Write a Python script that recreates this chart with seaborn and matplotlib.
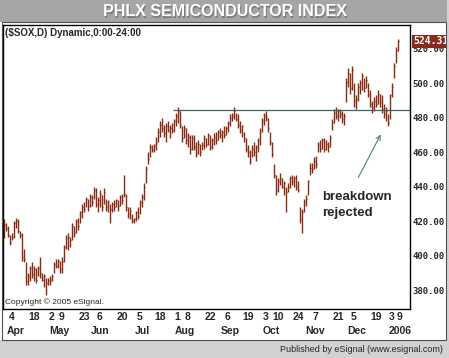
import pandas as pd
import numpy as np
import seaborn as sns
import matplotlib
matplotlib.use("Agg")
import matplotlib.pyplot as plt
from matplotlib.patches import Rectangle

# daily bars of $SOX (29 Mar 2005 - 6 Jan 2006)
highs = [421, 419, 417, 412, 413, 420, 422, 421, 414, 413,
         404, 396, 390, 394, 396, 394, 393, 394, 399, 390,
         389, 387, 387, 388, 389, 396, 398, 398, 397, 399,
         406, 412, 413, 411, 419, 417, 421, 422, 426, 430,
         431, 434, 433, 436, 435, 440, 439, 434, 438, 435,
         439, 433, 432, 430, 431, 432, 433, 432, 435, 436,
         447, 436, 428, 428, 424, 422, 426, 428, 432, 436,
         442, 452, 460, 465, 464, 465, 469, 474, 478, 480,
         476, 477, 478, 476, 477, 479, 483, 486, 484, 475,
         476, 474, 471, 470, 470, 470, 466, 467, 465, 466,
         470, 468, 471, 470, 468, 471, 472, 473, 474, 473,
         475, 475, 478, 482, 483, 486, 483, 482, 478, 476,
         472, 468, 464, 461, 464, 466, 464, 468, 474, 480,
         483, 484, 480, 472, 466, 453, 447, 445, 448, 445,
         443, 440, 442, 446, 447, 446, 447, 443, 428, 427,
         433, 435, 444, 454, 454, 457, 458, 466, 467, 468,
         468, 467, 466, 470, 479, 485, 486, 485, 485, 484,
         483, 503, 509, 506, 510, 500, 493, 500, 502, 506,
         503, 504, 500, 496, 490, 492, 493, 496, 494, 493,
         488, 486, 482, 494, 500, 512, 521, 526]
lows = [410, 414, 411, 406, 409, 410, 416, 413, 410, 397,
        396, 383, 383, 385, 387, 385, 384, 388, 387, 385,
        382, 377, 383, 383, 385, 390, 393, 393, 390, 390,
        396, 404, 403, 405, 409, 411, 413, 415, 419, 422,
        425, 428, 426, 428, 429, 433, 428, 425, 428, 426,
        430, 426, 425, 419, 425, 426, 428, 426, 429, 430,
        434, 426, 422, 421, 419, 419, 420, 421, 424, 428,
        432, 442, 453, 457, 460, 460, 461, 466, 469, 472,
        469, 466, 472, 468, 471, 472, 475, 477, 474, 466,
        468, 465, 463, 459, 461, 461, 457, 459, 458, 461,
        462, 463, 464, 461, 462, 464, 465, 467, 468, 466,
        468, 470, 472, 475, 478, 479, 478, 474, 471, 469,
        466, 460, 457, 453, 457, 458, 455, 460, 464, 472,
        476, 478, 472, 464, 457, 445, 435, 437, 441, 439,
        435, 425, 437, 439, 441, 440, 438, 437, 419, 413,
        425, 429, 435, 447, 448, 450, 451, 460, 460, 462,
        460, 461, 460, 463, 473, 477, 479, 478, 480, 477,
        476, 489, 498, 494, 496, 486, 485, 490, 494, 496,
        495, 497, 492, 486, 483, 484, 486, 488, 486, 483,
        480, 478, 475, 479, 492, 503, 512, 519]
closes = [418, 416, 412, 408, 411, 419, 420, 414, 412, 399,
          398, 385, 388, 393, 389, 392, 386, 393, 390, 386,
          388, 384, 386, 385, 388, 395, 394, 397, 392, 397,
          405, 410, 411, 409, 417, 413, 420, 417, 425, 428,
          427, 433, 429, 434, 431, 438, 430, 432, 436, 428,
          437, 428, 431, 427, 430, 428, 432, 429, 434, 432,
          436, 428, 424, 426, 420, 421, 425, 423, 431, 434,
          440, 450, 456, 463, 461, 464, 466, 472, 476, 474,
          471, 475, 473, 474, 473, 478, 481, 484, 476, 468,
          474, 467, 469, 462, 468, 463, 459, 465, 460, 464,
          468, 465, 470, 463, 467, 469, 467, 472, 470, 472,
          470, 474, 477, 480, 481, 484, 479, 476, 473, 475,
          468, 462, 460, 455, 462, 460, 463, 467, 472, 478,
          481, 480, 474, 466, 459, 447, 438, 443, 445, 440,
          442, 437, 440, 445, 443, 445, 440, 438, 421, 425,
          431, 433, 443, 451, 450, 455, 453, 464, 462, 467,
          462, 465, 463, 468, 477, 483, 481, 484, 482, 479,
          481, 501, 506, 497, 508, 490, 491, 498, 500, 504,
          497, 502, 494, 488, 486, 490, 488, 494, 489, 485,
          482, 484, 477, 493, 498, 510, 519, 524.31]

holidays = ["2005-05-30", "2005-07-04", "2005-09-05", "2005-11-24",
            "2005-12-26", "2006-01-02"]
days = pd.bdate_range("2005-03-29", "2006-01-06")
days = days[~days.isin(pd.to_datetime(holidays))]

day_ticks = ["2005-04-04", "2005-04-18", "2005-05-02", "2005-05-09", "2005-05-23",
             "2005-06-06", "2005-06-20", "2005-07-05", "2005-07-18", "2005-08-01",
             "2005-08-08", "2005-08-22", "2005-09-06", "2005-09-19", "2005-10-03",
             "2005-10-10", "2005-10-24", "2005-11-07", "2005-11-21", "2005-12-05",
             "2005-12-19", "2006-01-03", "2006-01-09"]
month_ticks = ["2005-04-01", "2005-05-02", "2005-06-01", "2005-07-01", "2005-08-01",
               "2005-09-01", "2005-10-03", "2005-11-01", "2005-12-01", "2006-01-03"]
month_labels = ["Apr", "May", "Jun", "Jul", "Aug", "Sep", "Oct", "Nov", "Dec", "2006"]
price_ticks = [380, 400, 420, 440, 460, 480, 500, 520]
resistance = 484.7

df = pd.DataFrame({"date": days, "high": highs, "low": lows, "close": closes})
df["i"] = np.arange(len(df))

# trading-day index of a date (dates past the data keep counting weekdays)
def pos(d):
    d = pd.Timestamp(d)
    if d <= days[-1]:
        return int(np.searchsorted(days, d))
    return len(days) - 1 + len(pd.bdate_range(days[-1], d)) - 1

sns.set_style("white")
plt.rcParams["font.family"] = ["Liberation Sans", "DejaVu Sans"]

W, H = 449, 358
fx = lambda px: px / W
fy = lambda py: 1 - py / H

fig = plt.figure(figsize=(4.49, 3.58), dpi=100)
fig.patch.set_facecolor("white")
fig.add_artist(Rectangle((0, fy(22)), 1, 22 / H, transform=fig.transFigure,
                         fc="#a6a6a6", ec="none"))
fig.add_artist(Rectangle((0, 0), 1, 18 / H, transform=fig.transFigure,
                         fc="#d2d2d2", ec="none"))
fig.add_artist(Rectangle((fx(447), 0), 2 / W, 1, transform=fig.transFigure,
                         fc="#d2d2d2", ec="none"))
fig.add_artist(Rectangle((fx(1.5), fy(340)), fx(446) - fx(1.5), (340 - 22) / H,
                         transform=fig.transFigure, fc="none", ec="#505050", lw=0.8))

fig.text(0.5 + 1 / W, fy(13), "PHLX SEMICONDUCTOR INDEX", ha="center", va="center",
         fontsize=11.5, fontweight="bold", color="#7c7c7c")
fig.text(0.5, fy(12), "PHLX SEMICONDUCTOR INDEX", ha="center", va="center",
         fontsize=11.5, fontweight="bold", color="white")

ax = fig.add_axes([fx(3), fy(309), fx(410) - fx(3), (309 - 25) / H])
ax.set_facecolor("white")
bar_col = "#8a2a12"
ax.vlines(df["i"], df["low"], df["high"], color=bar_col, lw=1.0)
ax.hlines(df["close"], df["i"], df["i"] + 0.6, color=bar_col, lw=0.9)

ax.hlines(resistance, 84.5, 203, color="#3d646b", lw=0.9)

ax.set_xlim(-0.5, 203)
ax.set_ylim(368.97, 533.85)
for s in ax.spines.values():
    s.set_color("black")
    s.set_linewidth(1.0)

ax.yaxis.tick_right()
ax.set_yticks(price_ticks)
ax.set_yticklabels([f"{p:.2f}" for p in price_ticks], family="DejaVu Sans Mono",
                   fontweight="bold", fontsize=6.5)
ax.tick_params(axis="y", length=0, pad=2)
ax.set_xticks([])

ax.text(len(df) + 6.6, closes[-1], f"{closes[-1]:.2f}", ha="left", va="center",
        fontsize=7, fontweight="bold", color="white", family="DejaVu Sans Mono",
        bbox=dict(boxstyle="square,pad=0.15", fc="#8b2a1a", ec="none"),
        clip_on=False)

tr = ax.get_xaxis_transform()
for d in day_ticks:
    ax.text(pos(d) - 1.6, -8 / 284, str(pd.Timestamp(d).day), transform=tr,
            ha="left", va="center", fontsize=7.5, fontweight="bold", clip_on=False)
for d, lab in zip(month_ticks, month_labels):
    ax.text(pos(d) - 1.6, -22 / 284, lab, transform=tr, ha="left", va="center",
            fontsize=7.5, fontweight="bold", clip_on=False)

ax.text(0.004, 1 - 8 / 284, "($SOX,D) Dynamic,0:00-24:00", transform=ax.transAxes,
        ha="left", va="center", fontsize=7, fontweight="bold")
ax.text(0.006, 7 / 284, "Copyright \u00a9 2005 eSignal.", transform=ax.transAxes,
        ha="left", va="center", fontsize=6)

ax.annotate("", xy=(189, 471.7), xytext=(176.5, 443.9),
            arrowprops=dict(arrowstyle="->", color="#4f7f86", lw=0.8,
                            mutation_scale=8))
ax.text(159, 434.0, "breakdown", ha="left", va="center", fontsize=9.5,
        fontweight="bold")
ax.text(159, 424.7, "rejected", ha="left", va="center", fontsize=9.5,
        fontweight="bold")

fig.text(fx(443), fy(349), "Published by eSignal (www.esignal.com)", ha="right",
         va="center", fontsize=6.5)

fig.savefig("out.png", dpi=100)
